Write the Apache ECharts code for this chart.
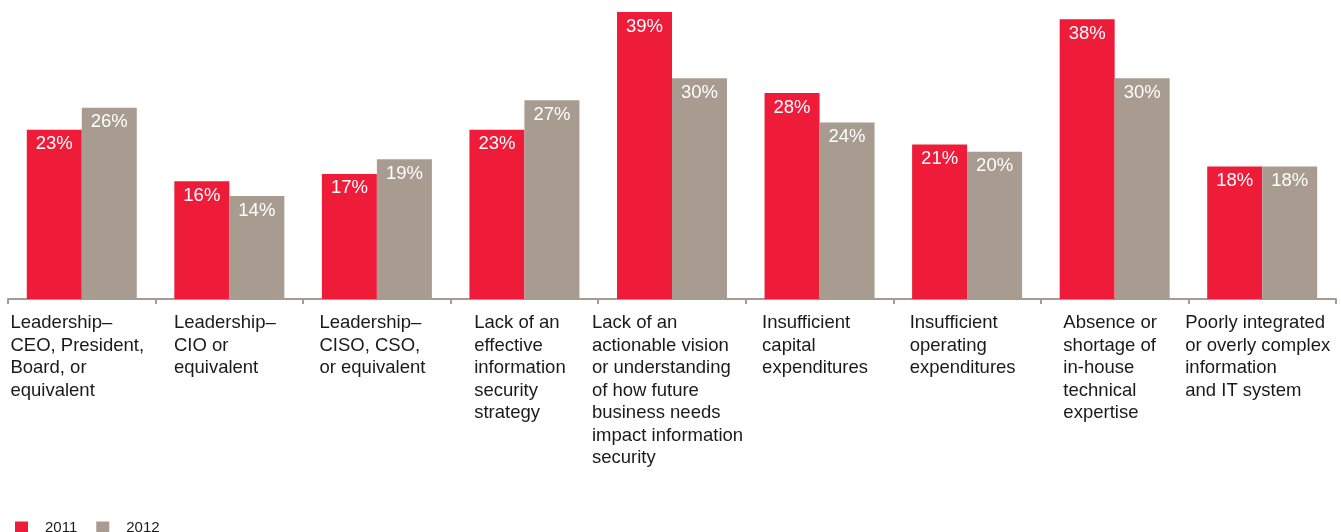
<!DOCTYPE html>
<html>
<head>
<meta charset="utf-8">
<script src="https://cdn.jsdelivr.net/npm/echarts@6/dist/echarts.min.js"></script>
<style>
  html, body { margin: 0; padding: 0; background: #ffffff; }
  #chart { width: 1341px; height: 532px; }
</style>
</head>
<body>
<div id="chart"></div>
<script>
// Obstacles to information security, share of respondents
const categories = [
  ['Leadership–', 'CEO, President,', 'Board, or', 'equivalent'],
  ['Leadership–', 'CIO or', 'equivalent'],
  ['Leadership–', 'CISO, CSO,', 'or equivalent'],
  ['Lack of an', 'effective', 'information', 'security', 'strategy'],
  ['Lack of an', 'actionable vision', 'or understanding', 'of how future', 'business needs', 'impact information', 'security'],
  ['Insufficient', 'capital', 'expenditures'],
  ['Insufficient', 'operating', 'expenditures'],
  ['Absence or', 'shortage of', 'in-house', 'technical', 'expertise'],
  ['Poorly integrated', 'or overly complex', 'information', 'and IT system']
];
const values2011 = [23, 16, 17, 23, 39, 28, 21, 38, 18];
const values2012 = [26, 14, 19, 27, 30, 24, 20, 30, 18];
const seriesNames = ['2011', '2012'];

const RED = '#ee1c39';
const TAUPE = '#a89b90';
const FONT = '"Liberation Sans", Arial, Helvetica, sans-serif';

const chart = echarts.init(document.getElementById('chart'), null, { renderer: 'canvas' });

const barLabel = {
  show: true,
  position: 'insideTop',
  distance: 5,
  color: '#ffffff',
  fontFamily: FONT,
  fontSize: 18.5,
  formatter: p => p.value + '%'
};

chart.setOption({
  animation: false,
  backgroundColor: '#ffffff',
  grid: { left: 8, right: 5, top: 12, bottom: 233, containLabel: false },
  legend: {
    left: 15,
    top: 520,
    padding: 0,
    itemWidth: 13,
    itemHeight: 12,
    itemGap: 19,
    icon: 'rect',
    textStyle: { fontFamily: FONT, fontSize: 15, color: '#1a1a1a', padding: [0, 0, 0, 12] },
    data: seriesNames
  },
  xAxis: {
    type: 'category',
    data: categories.map(c => c.join('\n')),
    boundaryGap: true,
    axisLine: { show: true, lineStyle: { color: TAUPE, width: 2 } },
    axisTick: { show: true, length: 5, lineStyle: { color: TAUPE, width: 2 } },
    axisLabel: {
      interval: 0,
      margin: 13,
      align: 'center',
      padding: [0, 9, 0, 0],
      // each line is its own token so lines sit flush left inside the centred block
      formatter: v => v.split('\n').map(l => '{t|' + l + '}').join('\n'),
      rich: {
        t: { fontFamily: FONT, fontSize: 18.5, lineHeight: 22.5, color: '#1a1a1a', align: 'left' }
      }
    }
  },
  yAxis: {
    type: 'value',
    min: 0,
    max: 39,
    show: false,
    splitLine: { show: false }
  },
  series: [
    {
      name: seriesNames[0],
      type: 'bar',
      data: values2011,
      barWidth: 55,
      barGap: '0%',
      itemStyle: { color: RED },
      label: barLabel
    },
    {
      name: seriesNames[1],
      type: 'bar',
      data: values2012,
      barWidth: 55,
      barGap: '0%',
      itemStyle: { color: TAUPE },
      label: barLabel
    }
  ]
});
</script>
</body>
</html>
